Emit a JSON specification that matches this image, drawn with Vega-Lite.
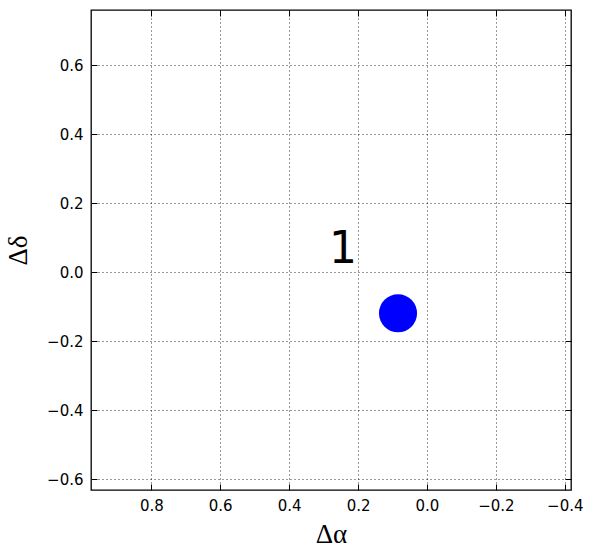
{
  "$schema": "https://vega.github.io/schema/vega-lite/v6.json",
  "autosize": {"type": "none"},
  "padding": {"left": 91, "top": 10, "right": 24, "bottom": 68},
  "width": 480,
  "height": 480,
  "background": "white",
  "config": {
    "view": {"stroke": "black", "strokeWidth": 1.3},
    "axis": {
      "domain": false,
      "labelFont": "DejaVu Sans",
      "labelFontSize": 15,
      "labelColor": "black",
      "tickColor": "black",
      "tickSize": -6,
      "tickWidth": 1,
      "gridColor": "black",
      "gridDash": [1, 3],
      "gridOpacity": 0.8,
      "gridWidth": 1,
      "titleFont": "Liberation Serif",
      "titleFontSize": 27,
      "titleFontWeight": "normal",
      "titleColor": "black"
    }
  },
  "datasets": {
    "stars": [{"dra": 0.084, "ddec": -0.119}],
    "labels": [{"dra": 0.244, "ddec": 0.028, "label": "1"}]
  },
  "layer": [
    {
      "data": {"name": "stars"},
      "mark": {"type": "point", "filled": true, "color": "blue", "opacity": 1, "size": 1450, "shape": "circle", "strokeWidth": 0},
      "encoding": {
        "x": {
          "field": "dra", "type": "quantitative",
          "scale": {"domain": [-0.418, 0.975], "reverse": true, "nice": false, "zero": false},
          "axis": {"orient": "bottom", "values": [-0.4, -0.2, 0, 0.2, 0.4, 0.6, 0.8], "format": ".1f", "title": "Δα", "labelPadding": 14, "titlePadding": 8, "grid": true}
        },
        "y": {
          "field": "ddec", "type": "quantitative",
          "scale": {"domain": [-0.631, 0.76], "nice": false, "zero": false},
          "axis": {"orient": "left", "values": [-0.6, -0.4, -0.2, 0, 0.2, 0.4, 0.6], "format": ".1f", "title": "Δδ", "labelPadding": 14, "titlePadding": 14, "grid": true}
        }
      }
    },
    {
      "data": {"name": "labels"},
      "mark": {"type": "text", "font": "DejaVu Sans", "fontSize": 44, "align": "center", "baseline": "alphabetic", "color": "black"},
      "encoding": {
        "x": {
          "field": "dra", "type": "quantitative",
          "axis": {"orient": "top", "values": [-0.4, -0.2, 0, 0.2, 0.4, 0.6, 0.8], "labels": false, "title": null, "grid": false}
        },
        "y": {
          "field": "ddec", "type": "quantitative",
          "axis": {"orient": "right", "values": [-0.6, -0.4, -0.2, 0, 0.2, 0.4, 0.6], "labels": false, "title": null, "grid": false}
        },
        "text": {"field": "label"}
      }
    }
  ],
  "resolve": {"axis": {"x": "independent", "y": "independent"}}
}
